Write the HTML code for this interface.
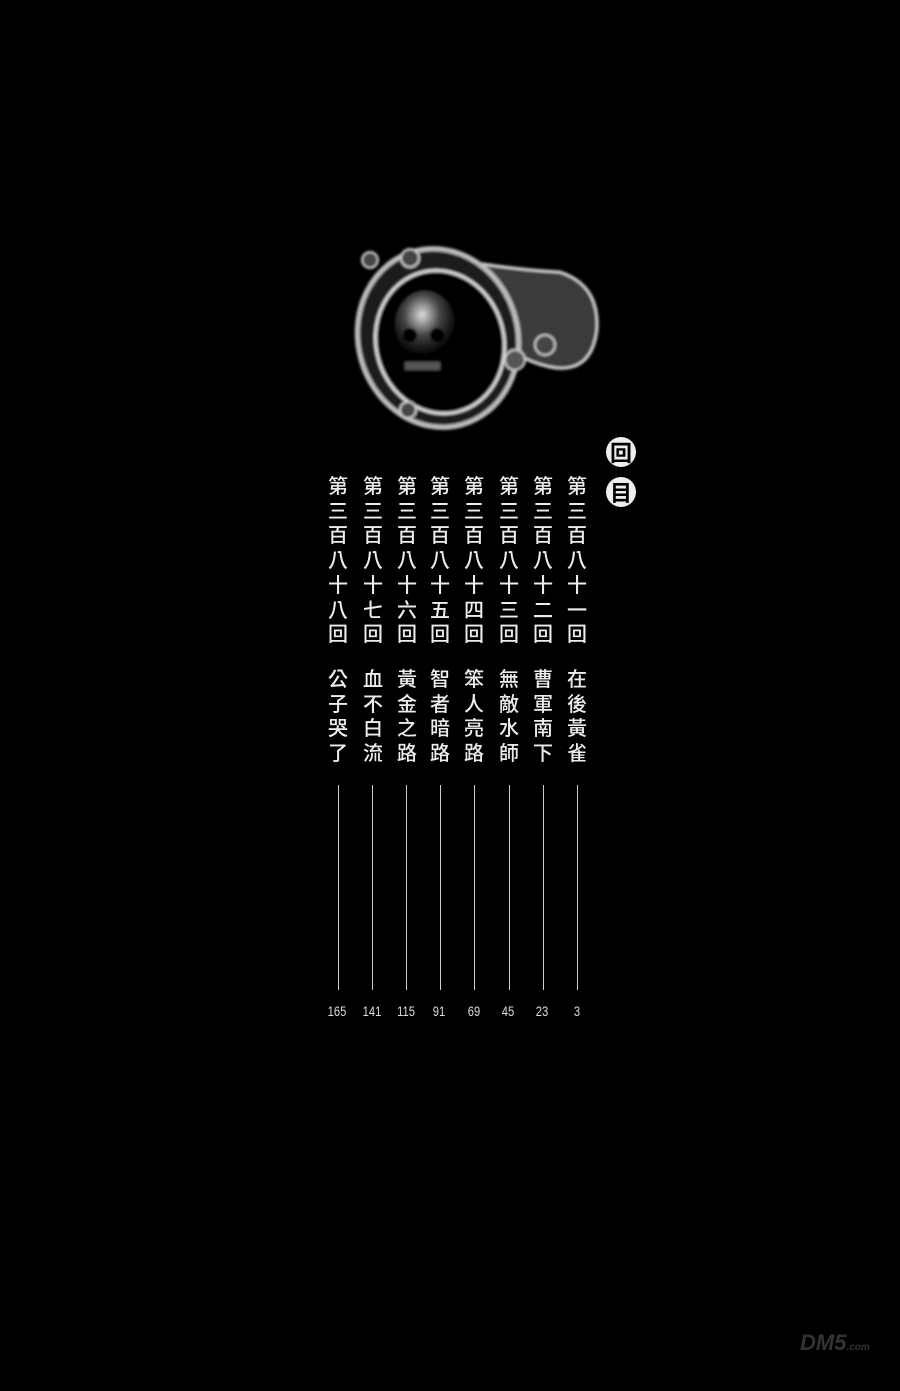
<!DOCTYPE html>
<html><head><meta charset="utf-8">
<style>
html,body{margin:0;padding:0;background:#000;}
body{width:900px;height:1391px;position:relative;overflow:hidden;font-family:"Liberation Sans","Noto Sans CJK TC",sans-serif;}
.col{position:absolute;width:24px;color:#ececec;font-size:20px;line-height:24.7px;text-align:center;font-family:"Noto Sans CJK TC","WenQuanYi Zen Hei",sans-serif;font-weight:500;}
.ln{position:absolute;width:1px;background:#ccc;top:785px;height:205px;}
.num{position:absolute;top:1003px;width:40px;text-align:center;color:#ddd;font-size:14px;transform:scaleX(0.8);}
.circ{position:absolute;width:30px;height:30px;border-radius:50%;background:#eee;color:#000;font-size:22px;line-height:30px;text-align:center;font-weight:bold;font-family:"Noto Sans CJK TC",sans-serif;}
</style></head><body>
<svg width="900" height="1391" style="position:absolute;left:0;top:0">
<defs><filter id="b"><feGaussianBlur stdDeviation="1.2"/></filter>
<radialGradient id="sk" cx="0.45" cy="0.35" r="0.6"><stop offset="0" stop-color="#ddd"/><stop offset="0.5" stop-color="#444"/><stop offset="1" stop-color="#000"/></radialGradient></defs>
<g filter="url(#b)">
<path d="M470 262 Q520 270 560 272 Q600 285 597 330 Q592 372 555 368 Q520 362 500 340 Z" fill="#3a3a3a" stroke="#ccc" stroke-width="3"/>
<ellipse cx="438" cy="338" rx="80" ry="90" fill="#1a1a1a" stroke="#bbb" stroke-width="5" transform="rotate(-15 438 338)"/>
<ellipse cx="440" cy="342" rx="64" ry="72" fill="#000" stroke="#ddd" stroke-width="3" transform="rotate(-15 440 342)"/>
<ellipse cx="425" cy="325" rx="30" ry="34" fill="url(#sk)"/>
<circle cx="410" cy="335" r="7" fill="#000"/><circle cx="437" cy="335" r="7" fill="#000"/>
<rect x="405" y="362" width="35" height="8" fill="#555"/>
<circle cx="515" cy="360" r="10" fill="#555" stroke="#ccc" stroke-width="2"/>
<circle cx="545" cy="345" r="10" fill="#444" stroke="#ccc" stroke-width="2"/>
<circle cx="410" cy="258" r="9" fill="#444" stroke="#ccc" stroke-width="2"/>
<circle cx="370" cy="260" r="8" fill="#444" stroke="#ccc" stroke-width="2"/>
<circle cx="408" cy="410" r="8" fill="#444" stroke="#ccc" stroke-width="2"/>
</g>
</svg>
<div class="circ" style="left:606px;top:437px">回</div>
<div class="circ" style="left:606px;top:477px">目</div>

<div class="col" style="left:565px;top:473px">第三百八十一回</div>
<div class="col" style="left:565px;top:666px">在後黃雀</div>
<div class="col" style="left:531px;top:473px">第三百八十二回</div>
<div class="col" style="left:531px;top:666px">曹軍南下</div>
<div class="col" style="left:497px;top:473px">第三百八十三回</div>
<div class="col" style="left:497px;top:666px">無敵水師</div>
<div class="col" style="left:462px;top:473px">第三百八十四回</div>
<div class="col" style="left:462px;top:666px">笨人亮路</div>
<div class="col" style="left:428px;top:473px">第三百八十五回</div>
<div class="col" style="left:428px;top:666px">智者暗路</div>
<div class="col" style="left:395px;top:473px">第三百八十六回</div>
<div class="col" style="left:395px;top:666px">黃金之路</div>
<div class="col" style="left:361px;top:473px">第三百八十七回</div>
<div class="col" style="left:361px;top:666px">血不白流</div>
<div class="col" style="left:326px;top:473px">第三百八十八回</div>
<div class="col" style="left:326px;top:666px">公子哭了</div>

<div class="ln" style="left:577px"></div><div class="ln" style="left:543px"></div>
<div class="ln" style="left:509px"></div><div class="ln" style="left:474px"></div>
<div class="ln" style="left:440px"></div><div class="ln" style="left:406px"></div>
<div class="ln" style="left:372px"></div><div class="ln" style="left:338px"></div>

<div class="num" style="left:557px">3</div><div class="num" style="left:522px">23</div>
<div class="num" style="left:488px">45</div><div class="num" style="left:454px">69</div>
<div class="num" style="left:419px">91</div><div class="num" style="left:386px">115</div>
<div class="num" style="left:352px">141</div><div class="num" style="left:317px">165</div>

<div style="position:absolute;left:800px;top:1330px;color:#333;font-size:22px;font-weight:bold;font-style:italic;">DM5<span style="font-size:10px">.com</span></div>
</body></html>
